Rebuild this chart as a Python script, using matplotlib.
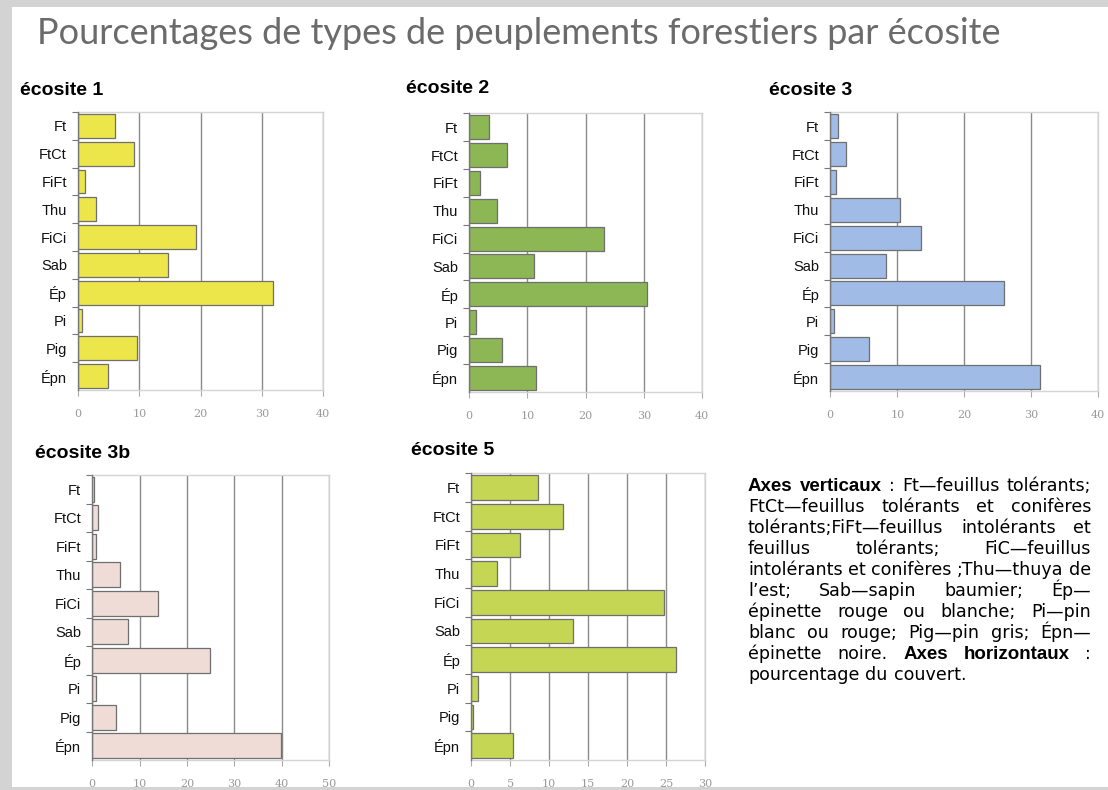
import matplotlib.pyplot as plt
from matplotlib.patches import Rectangle

# stand types, top to bottom
types = ["Ft", "FtCt", "FiFt", "Thu", "FiCi", "Sab", "Ép", "Pi", "Pig", "Épn"]

# percent cover per ecosite
ecosite_1 = [6.0, 9.1, 1.1, 3.0, 19.3, 14.7, 31.8, 0.7, 9.7, 4.9]
ecosite_2 = [3.4, 6.4, 1.9, 4.8, 23.2, 11.1, 30.6, 1.2, 5.7, 11.5]
ecosite_3 = [1.1, 2.4, 0.9, 10.4, 13.5, 8.3, 25.9, 0.6, 5.8, 31.3]
ecosite_3b = [0.3, 1.3, 0.7, 5.8, 13.9, 7.5, 24.9, 0.7, 5.1, 39.8]
ecosite_5 = [8.5, 11.8, 6.2, 3.3, 24.7, 13.1, 26.3, 0.8, 0.2, 5.4]

W, H = 1108, 790
fig = plt.figure(figsize=(W / 100, H / 100), dpi=100)

# grey frame on top/left/bottom
fig.patches.append(Rectangle((0, 1 - 7 / H), 1, 7 / H, transform=fig.transFigure,
                             facecolor="#d3d3d3", edgecolor="none"))
fig.patches.append(Rectangle((0, 0), 12 / W, 1, transform=fig.transFigure,
                             facecolor="#d3d3d3", edgecolor="none"))
fig.patches.append(Rectangle((12 / W, 0), 1, 3 / H, transform=fig.transFigure,
                             facecolor="#d3d3d3", edgecolor="none"))

fig.text(37 / W, 1 - 44 / H, "Pourcentages de types de peuplements forestiers par écosite",
         fontsize=26, color="#6b6b6b", family="Lato", va="baseline")


def px_axes(x0, y0, x1, y1):
    return fig.add_axes([x0 / W, 1 - y1 / H, (x1 - x0) / W, (y1 - y0) / H])


def panel(box, values, color, xmax, step, title, title_xy):
    ax = px_axes(*box)
    pos = list(range(len(types)))
    ax.barh(pos, values, height=0.86, color=color, edgecolor="#6f6f6f",
            linewidth=0.9, zorder=3)
    ax.set_ylim(len(types) - 0.5, -0.5)
    ax.set_xlim(0, xmax)
    ax.set_xticks(range(0, xmax + 1, step))
    ax.set_yticks(pos)
    ax.set_yticklabels(types, fontsize=10.5, family="Liberation Sans", color="#111111")
    ax.set_yticks([p + 0.5 for p in pos[:-1]] + [-0.5], minor=True)
    ax.tick_params(axis="y", which="major", length=0, pad=8)
    ax.tick_params(axis="y", which="minor", length=4, color="#777777", width=0.8,
                   direction="out")
    ax.tick_params(axis="x", length=4, color="#aaaaaa", width=0.8, pad=10,
                   labelsize=8, labelcolor="#9a9a9a")
    for lab in ax.get_xticklabels():
        lab.set_family("DejaVu Serif")
    ax.grid(axis="x", color="#8a8a8a", linewidth=1.0, zorder=1)
    ax.set_axisbelow(True)
    for side in ("top", "right", "bottom"):
        ax.spines[side].set_color("#d4d4d4")
        ax.spines[side].set_linewidth(1.0)
    ax.spines["left"].set_color("#777777")
    ax.spines["left"].set_linewidth(1.0)
    ax.spines["left"].set_zorder(4)
    fig.text(title_xy[0] / W, 1 - title_xy[1] / H, title, fontsize=14,
             fontweight="bold", family="Liberation Sans", va="baseline")
    return ax


panel((78, 112, 323.3, 390), ecosite_1, "#ece64a", 40, 10, "écosite 1", (20, 95))
panel((469.3, 113.3, 702, 391.7), ecosite_2, "#8db654", 40, 10, "écosite 2", (406, 93))
panel((830.3, 112.3, 1098.3, 391), ecosite_3, "#a0bce6", 40, 10, "écosite 3", (769, 95))
panel((92.3, 475, 329, 760), ecosite_3b, "#efdcd6", 50, 10, "écosite 3b", (35, 458))
panel((471.3, 473.3, 705, 760), ecosite_5, "#c5d554", 30, 5, "écosite 5", (411, 455))

# justified legend block
legend_lines = [
    [("Axes", True), ("verticaux", True), (":", False), ("Ft—feuillus", False), ("tolérants;", False)],
    [("FtCt—feuillus", False), ("tolérants", False), ("et", False), ("conifères", False)],
    [("tolérants;FiFt—feuillus", False), ("intolérants", False), ("et", False)],
    [("feuillus", False), ("tolérants;", False), ("FiC—feuillus", False)],
    [("intolérants", False), ("et", False), ("conifères", False), (";Thu—thuya", False), ("de", False)],
    [("l’est;", False), ("Sab—sapin", False), ("baumier;", False), ("Ép—", False)],
    [("épinette", False), ("rouge", False), ("ou", False), ("blanche;", False), ("Pi—pin", False)],
    [("blanc", False), ("ou", False), ("rouge;", False), ("Pig—pin", False), ("gris;", False), ("Épn—", False)],
    [("épinette", False), ("noire.", False), ("Axes", True), ("horizontaux", True), (":", False)],
    [("pourcentage", False), ("du", False), ("couvert.", False)],
]
x_left, x_right = 748, 1091
y0, dy = 491, 21
renderer = fig.canvas.get_renderer()
for i, words in enumerate(legend_lines):
    y = 1 - (y0 + i * dy) / H
    items = []
    for w, bold in words:
        if bold:
            t = fig.text(0, y, w, fontsize=13.5, family="Liberation Sans",
                         fontweight="bold", va="baseline")
        else:
            t = fig.text(0, y, w, fontsize=12.6, family="DejaVu Sans", va="baseline")
        items.append(t)
    widths = [t.get_window_extent(renderer).width for t in items]
    if i == len(legend_lines) - 1:
        gap = 6
    else:
        gap = (x_right - x_left - sum(widths)) / (len(items) - 1)
    x = x_left
    for t, wd in zip(items, widths):
        t.set_x(x / W)
        x += wd + gap

fig.savefig("out.png", dpi=100)
